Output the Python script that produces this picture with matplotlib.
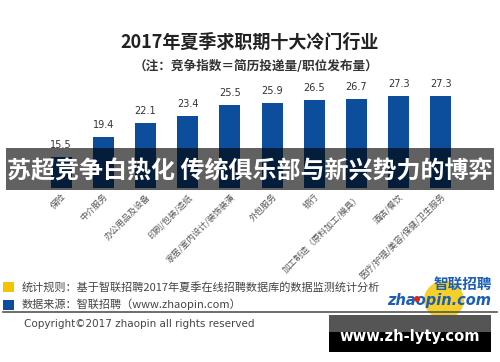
import matplotlib
matplotlib.use("Agg")
import matplotlib.pyplot as plt
from matplotlib.patches import Rectangle, Ellipse

plt.rcParams['font.family'] = ['Noto Sans CJK SC', 'DejaVu Sans']

categories = ["保险", "中介服务", "办公用品及设备", "印刷/包装/造纸", "家居/室内设计/装饰装潢",
              "外包服务", "银行", "加工制造（原料加工/模具）", "酒店/餐饮", "医疗/护理/美容/保健/卫生服务"]
values = [15.5, 19.4, 22.1, 23.4, 25.5, 25.9, 26.5, 26.7, 27.3, 27.3]
title = "2017年夏季求职期十大冷门行业"
subtitle = "（注：竞争指数＝简历投递量/职位发布量）"
overlay_text = "苏超竞争白热化 传统俱乐部与新兴势力的博弈"
note1 = "统计规则：基于智联招聘2017年夏季在线招聘数据库的数据监测统计分析"
note2 = "数据来源：智联招聘（www.zhaopin.com）"
copyright_text = "Copyright©2017 zhaopin all rights reserved"
watermark = "www.zh-lyty.com"

W, H = 500, 362
fig = plt.figure(figsize=(W / 100, H / 100), dpi=100)
fig.patch.set_facecolor("white")

def fx(px):
    return px / W

def fy(py):
    return 1 - py / H

# main bar axes
ax = fig.add_axes([fx(40), fy(188), fx(422), 106 / H])
x = list(range(len(categories)))
bars = ax.bar(x, values, width=0.5, color="#0d4e9c", zorder=2)
ax.set_xlim(-0.5, len(categories) - 0.5)
ax.set_ylim(9.5, 30)
for s in ax.spines.values():
    s.set_visible(False)
ax.set_yticks([])
ax.set_xticks(x)
ax.set_xticklabels(categories, rotation=45, ha="right", rotation_mode="anchor",
                   fontsize=6.2, color="#555555")
ax.tick_params(axis="x", length=0, pad=3)
for xi, v in zip(x, values):
    ax.annotate(f"{v}", (xi, v), xytext=(0, 5), textcoords="offset points",
                ha="center", va="bottom", fontsize=7, color="#333333",
                family=["DejaVu Sans"])

# titles
fig.text(fx(250), fy(42), title, ha="center", va="center", fontsize=13,
         fontweight="bold", color="#222222")
fig.text(fx(256), fy(66), subtitle, ha="center", va="center", fontsize=9.1,
         fontweight="bold", color="#333333")

# dark overlay band with headline
fig.patches.append(Rectangle((fx(6), fy(190)), fx(488), 42 / H, transform=fig.transFigure,
                             facecolor="black", alpha=0.62, edgecolor="none", zorder=5))
fig.text(fx(250), fy(171), overlay_text, ha="center", va="center", fontsize=17.3,
         fontweight="bold", color="white", zorder=6)

# legend/notes
fig.patches.append(Rectangle((fx(3), fy(292)), fx(11), 10 / H, transform=fig.transFigure,
                             facecolor="#f5c400", edgecolor="none"))
fig.patches.append(Rectangle((fx(3), fy(310)), fx(11), 10 / H, transform=fig.transFigure,
                             facecolor="#0d4e9c", edgecolor="none"))
fig.text(fx(22), fy(287), note1, ha="left", va="center", fontsize=8.0, color="#444444")
fig.text(fx(22), fy(304), note2, ha="left", va="center", fontsize=8.0, color="#444444")
fig.lines.append(plt.Line2D([fx(3), fx(497)], [fy(312), fy(312)], transform=fig.transFigure,
                            color="#555555", linewidth=1.2))
fig.text(fx(24), fy(324), copyright_text, ha="left", va="center", fontsize=7.5,
         color="#444444", family=["DejaVu Sans"])

# logo
fig.patches.append(Ellipse((fx(444), fy(300)), fx(40), 38 / H, transform=fig.transFigure,
                           facecolor="#f7cf2a", edgecolor="none", zorder=1))
fig.text(fx(492), fy(284), "智联招聘", ha="right", va="center", fontsize=10.5,
         fontweight="bold", style="italic", color="#1a5fb4", zorder=3)
fig.text(fx(387), fy(300), "zhaopin.com", ha="left", va="center", fontsize=10.5,
         fontweight="bold", style="italic", color="#1a5fb4", family=["DejaVu Sans"], zorder=3)
fig.patches.append(Ellipse((fx(417), fy(299)), fx(6), 6 / H, transform=fig.transFigure,
                           facecolor="#d8261c", edgecolor="none", zorder=4))

# watermark box
fig.patches.append(Rectangle((fx(329), fy(352)), fx(162), 37 / H, transform=fig.transFigure,
                             facecolor="black", edgecolor="none", zorder=5))
fig.patches.append(Rectangle((fx(329), fy(332)), fx(162), 17 / H, transform=fig.transFigure,
                             facecolor="#555555", edgecolor="none", zorder=5))
fig.text(fx(410), fy(336), watermark, ha="center", va="center", fontsize=10.6,
         fontweight="bold", color="white", family=["DejaVu Sans"], zorder=6)

fig.savefig("out.png", dpi=100, facecolor="white")
